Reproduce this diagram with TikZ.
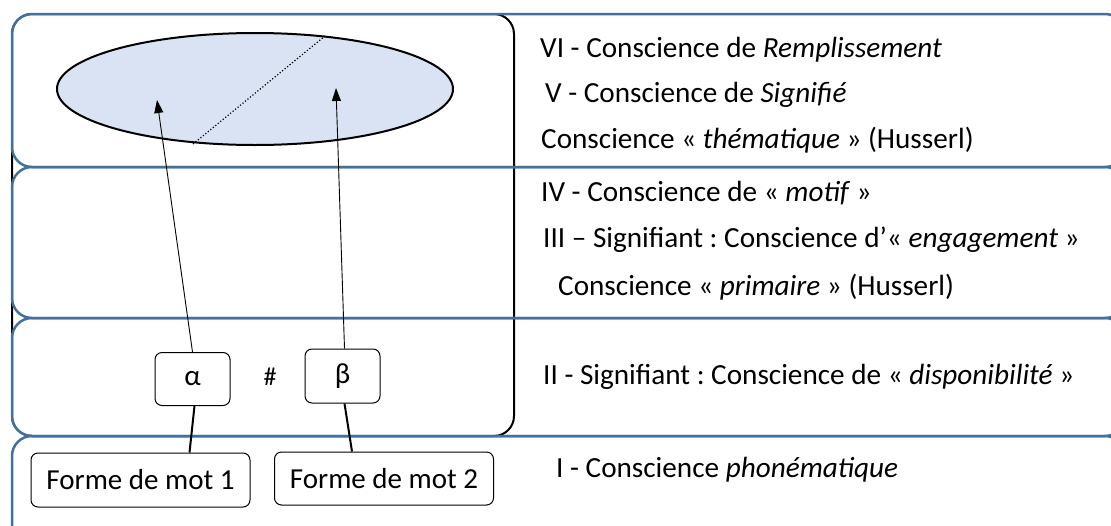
\documentclass[tikz,border=0pt]{standalone}
\usepackage{fontspec}
\setmainfont{Carlito}
\usetikzlibrary{arrows.meta,positioning}
\definecolor{bandblue}{HTML}{41719C}
\definecolor{cloudfill}{HTML}{DAE3F3}
\frenchspacing

\begin{document}
\begin{tikzpicture}[x=1pt,y=-1pt,
    band/.style={draw=bandblue,line width=2.5pt,rounded corners=20pt},
    level/.style={anchor=west,inner sep=0pt,font=\fontsize{29.2}{34}\selectfont},
    sigbox/.style={draw,line width=1pt,rounded corners=7pt,font=\fontsize{29}{34}\selectfont},
    pointer/.style={line width=0.9pt,-{Triangle[length=13pt,width=9pt]}}]
    \useasboundingbox (0,0) rectangle (1111,525);
    \clip (0,0) rectangle (1111,525);
    % outer frame of the signifiant / signified part
    \draw[line width=2pt,rounded corners=20pt] (12,14) rectangle (514,436);
    % the four levels
    \draw[band] (12,14) rectangle (1125,167);
    \draw[band] (12,167) rectangle (1125,318);
    \draw[band] (12,318) rectangle (1125,436);
    \draw[band] (12,436) rectangle (1125,545);
    % signified
    \draw[line width=2pt,fill=cloudfill] (255,89) ellipse (198pt and 56pt);
    \draw[dotted,line width=1.2pt] (193,144) -- (325,36);
    % labels on the right
    \node[level] at (540,50) {VI - Conscience de \textit{Remplissement}};
    \node[level] at (545,95) {V - Conscience de \textit{Signifié}};
    \node[level] at (541,140) {Conscience « \textit{thématique} » (Husserl)};
    \node[level] at (541,193) {IV - Conscience de « \textit{motif} »};
    \node[level] at (543,240) {III – Signifiant : Conscience d’« \textit{engagement} »};
    \node[level] at (558,287) {Conscience « \textit{primaire} » (Husserl)};
    \node[level] at (543,377) {II - Signifiant : Conscience de « \textit{disponibilité} »};
    \node[level] at (556,470) {I - Conscience \textit{phonématique}};
    % signifiants and word forms
    \node[sigbox,minimum width=75pt,minimum height=53pt] (alpha) at (192.5,379) {α};
    \node[sigbox,minimum width=75pt,minimum height=54pt] (beta) at (342.5,376) {β};
    \node[font=\fontsize{26}{30}\selectfont] (diese) at (270,377) {\#};
    \node[sigbox,minimum width=219pt,minimum height=54pt] (forme1) at (140.5,480) {Forme de mot 1};
    \node[sigbox,minimum width=219pt,minimum height=53pt] (forme2) at (384,478.5) {Forme de mot 2};
    \coordinate (tipa) at (157,100);
    \coordinate (tipb) at (336,88);
    \draw[pointer] (alpha.north) -- (tipa);
    \draw[pointer] ([xshift=2pt]beta.north) -- (tipb);
    \draw[line width=2pt] ([xshift=2pt]alpha.south) -- ([xshift=49pt]forme1.north);
    \draw[line width=2pt] ([xshift=2pt]beta.south) -- ([xshift=-32pt]forme2.north);
\end{tikzpicture}
\end{document}
